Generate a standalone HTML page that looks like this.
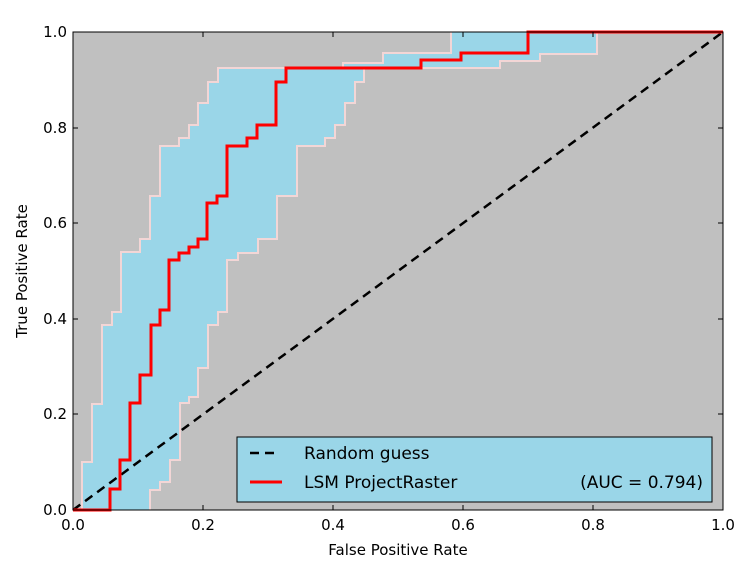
<!DOCTYPE html>
<html><head><style>
html,body{margin:0;padding:0;background:#fff;}
svg{display:block;font-family:"DejaVu Sans","Liberation Sans",sans-serif;}
</style></head><body>
<svg width="743" height="572" viewBox="0 0 743 572">
<rect x="73" y="32" width="650" height="478" fill="#c0c0c0"/>
<polygon fill="#9ad6e8" points="73,510 82,510 82,462 92,462 92,404 102,404 102,325 112,325 112,312 121,312 121,252 140,252 140,239 150,239 150,196 160,196 160,146 179,146 179,138 189,138 189,125 198,125 198,103 208,103 208,82 218,82 218,68 343,68 343,63 383,63 383,53 451,53 451,32 723,32 597,32 597,54 540,54 540,61 500,61 500,68 364,68 364,82 355,82 355,103 345,103 345,125 335,125 335,138 325,138 325,146 297,146 297,196 277,196 277,239 258,239 258,253 238,253 238,260 227,260 227,312 218,312 218,325 208,325 208,368 198,368 198,397 189,397 189,403 180,403 180,460 170,460 170,482 160,482 160,490 150,490 150,510"/>
<polyline fill="none" stroke="#f3d6d6" stroke-width="2" points="82,510 82,462 92,462 92,404 102,404 102,325 112,325 112,312 121,312 121,252 140,252 140,239 150,239 150,196 160,196 160,146 179,146 179,138 189,138 189,125 198,125 198,103 208,103 208,82 218,82 218,68 343,68 343,63 383,63 383,53 451,53 451,32"/>
<polyline fill="none" stroke="#f3d6d6" stroke-width="2" points="150,510 150,490 160,490 160,482 170,482 170,460 180,460 180,403 189,403 189,397 198,397 198,368 208,368 208,325 218,325 218,312 227,312 227,260 238,260 238,253 258,253 258,239 277,239 277,196 297,196 297,146 325,146 325,138 335,138 335,125 345,125 345,103 355,103 355,82 364,82 364,68 500,68 500,61 540,61 540,54 597,54 597,32"/>
<line x1="73" y1="510" x2="723" y2="32" stroke="#000" stroke-width="2.5" stroke-dasharray="9,6"/>
<polyline fill="none" stroke="#ff0000" stroke-width="3" points="73,510 110,510 110,489 120,489 120,460 130,460 130,403 140,403 140,375 151,375 151,325 160,325 160,310 169,310 169,260 179,260 179,253 189,253 189,247 198,247 198,239 207,239 207,203 217,203 217,196 227,196 227,146 247,146 247,138 257,138 257,125 276,125 276,82 286,82 286,68 421,68 421,60 461,60 461,53 528,53 528,32 723,32"/>
<rect x="73" y="32" width="650" height="478" fill="none" stroke="#000" stroke-width="1"/>
<g stroke="#000" stroke-width="1">
<line x1="203" y1="510" x2="203" y2="505"/><line x1="333" y1="510" x2="333" y2="505"/><line x1="463" y1="510" x2="463" y2="505"/><line x1="593" y1="510" x2="593" y2="505"/>
<line x1="203" y1="32" x2="203" y2="37"/><line x1="333" y1="32" x2="333" y2="37"/><line x1="463" y1="32" x2="463" y2="37"/><line x1="593" y1="32" x2="593" y2="37"/>
<line x1="73" y1="414" x2="78" y2="414"/><line x1="73" y1="319" x2="78" y2="319"/><line x1="73" y1="223" x2="78" y2="223"/><line x1="73" y1="128" x2="78" y2="128"/>
<line x1="723" y1="414" x2="718" y2="414"/><line x1="723" y1="319" x2="718" y2="319"/><line x1="723" y1="223" x2="718" y2="223"/><line x1="723" y1="128" x2="718" y2="128"/>
</g>
<rect x="237" y="437" width="475" height="65" fill="#9ad6e8" stroke="#000" stroke-width="1"/>
<line x1="250" y1="453" x2="280" y2="453" stroke="#000" stroke-width="2.5" stroke-dasharray="9,6"/>
<line x1="250" y1="482" x2="282" y2="482" stroke="#ff0000" stroke-width="3"/>
<g font-size="17" fill="#000">
<text x="304" y="459">Random guess</text>
<text x="304" y="488">LSM  ProjectRaster</text>
<text x="703" y="488" text-anchor="end">(AUC = 0.794)</text>
</g>
<g font-size="15" fill="#000" text-anchor="middle">
<text x="73" y="530">0.0</text><text x="203" y="530">0.2</text><text x="333" y="530">0.4</text><text x="463" y="530">0.6</text><text x="593" y="530">0.8</text><text x="723" y="530">1.0</text>
</g>
<g font-size="15" fill="#000" text-anchor="end">
<text x="67" y="515">0.0</text><text x="67" y="419">0.2</text><text x="67" y="324">0.4</text><text x="67" y="228">0.6</text><text x="67" y="133">0.8</text><text x="67" y="37">1.0</text>
</g>
<text x="398" y="555" font-size="15" text-anchor="middle">False Positive Rate</text>
<text transform="translate(27,271) rotate(-90)" font-size="15" text-anchor="middle">True Positive Rate</text>
</svg>
</body></html>
